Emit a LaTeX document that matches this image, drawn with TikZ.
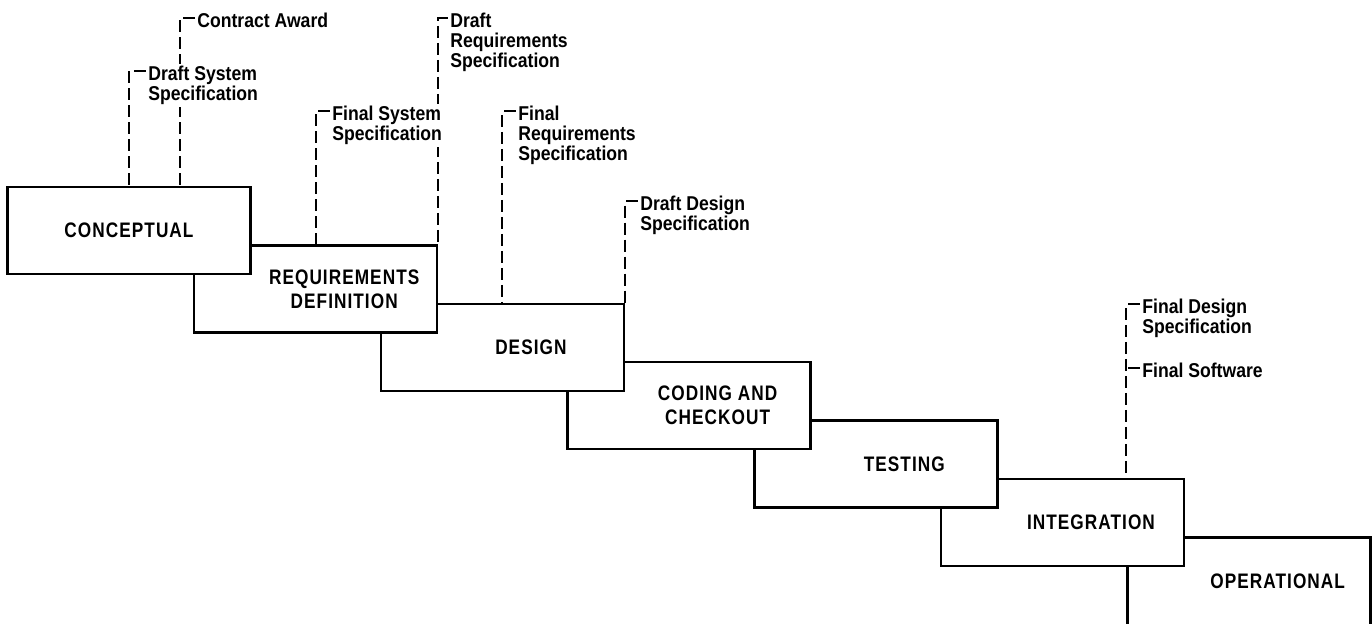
\documentclass[tikz,border=0pt]{standalone}
\usepackage{fontspec}
\usepackage{tikz}
\usetikzlibrary{calc, positioning, backgrounds}

\newfontfamily\notefont[FakeStretch=0.88]{Liberation Sans}
\newfontfamily\stagefont[FakeStretch=0.82, LetterSpace=5]{Liberation Sans}

\tikzset{
    stage/.style={draw, fill=white, line width=1.25pt, minimum width=121.5pt,
        minimum height=43.5pt, inner sep=0pt},
    tallstage/.style={minimum height=60pt, yshift=-8.25pt},
    stagetext/.style={font=\stagefont\bfseries\fontsize{10.5}{12}\selectfont,
        align=center, inner sep=0pt},
    note/.style={font=\notefont\bfseries\fontsize{10}{10}\selectfont,
        align=left, anchor=north west, fill=white, inner sep=1pt},
    milestone/.style={line width=1pt, dash pattern=on 6pt off 2.5pt},
}

\begin{document}
\begin{tikzpicture}[x=0.5pt, y=-0.5pt]
    \useasboundingbox (0,0) rectangle (1372,624);

    % 1. Cac pha (ve tu cuoi len de o truoc de len o sau)
    \foreach \i/\name/\extra in {6/oper/tallstage, 5/integ/, 4/test/, 3/code/,
            2/design/, 1/req/, 0/concept/} {
        \node[stage, \extra] (\name) at ({129+186.7*\i}, {230.5+58.4*\i}) {};
    }
    \node[stagetext] (concept-t) at (concept) {CONCEPTUAL};
    \foreach \name/\txt in {req/{REQUIREMENTS\\DEFINITION}, design/DESIGN,
            code/{CODING AND\\CHECKOUT}, test/TESTING, integ/INTEGRATION} {
        \node[stagetext] (\name-t) at ($(\name)+(28.5,0)$) {\txt};
    }
    \node[stagetext] (oper-t) at ($(integ)+(215.2,58.4)$) {OPERATIONAL};

    % 2. Cac moc tai lieu
    \node[note] (award) at (195,10.5) {Contract Award};
    \node[note] (sysdraft) at (146,63.5) {Draft System\\Specification};
    \node[note] (sysfinal) at (330,103.5) {Final System\\Specification};
    \node[note] (reqdraft) at (448,10.5) {Draft\\Requirements\\Specification};
    \node[note] (reqfinal) at (516,103.5) {Final\\Requirements\\Specification};
    \node[note] (desdraft) at (638,193.5) {Draft Design\\Specification};
    \node[note] (desfinal) at (1140,296.5) {Final Design\\Specification};
    \node[note] (software) at (1140,360.5) {Final Software};

    % 3. Duong net dut
    \begin{pgfonlayer}{background}
        \draw[milestone] ($(award.north west)+(0,8)$) -| ($(concept.north)+(51,0)$);
        \draw[milestone] ($(sysdraft.north west)+(0,8)$) -| (concept.north);
        \draw[milestone] ($(sysfinal.north west)+(0,8)$) -| (req.north);
        \draw[milestone] ($(reqdraft.north west)+(0,8)$) -| (req.north east);
        \draw[milestone] ($(reqfinal.north west)+(0,8)$) -| (design.north);
        \draw[milestone] ($(desdraft.north west)+(0,8)$) -| (design.north east);
        \draw[milestone] ($(desfinal.north west)+(0,8)$) -| (integ.north -| oper.west);
        \coordinate (software-c) at ($(software.north west)+(0,8)$);
        \draw[milestone] (software-c) -- (software-c -| oper.west);
    \end{pgfonlayer}
\end{tikzpicture}
\end{document}
